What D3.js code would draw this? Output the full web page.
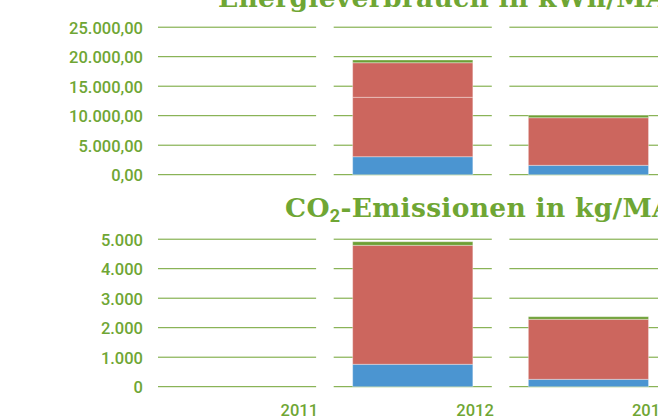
<!DOCTYPE html>
<html>
<head>
<meta charset="utf-8">
<script src="https://cdn.jsdelivr.net/npm/d3@7/dist/d3.min.js"></script>
<style>
  html, body { margin: 0; padding: 0; background: #fff; overflow: hidden; }
  svg { display: block; }
</style>
</head>
<body>
<svg id="chart" width="658" height="418"></svg>
<script>
// Years shown as panels
const years = ["2011", "2012", "2013"];

// Energy consumption per employee (kWh/MA), stacked bottom to top
const energyStrom     = [0, 3050, 1590];
const energyHeizung   = [0, 10070, 8070];
const energyWasser    = [0, 5860, 0];
const energySonstiges = [0, 460, 410];
const energyTicks = [0, 5000, 10000, 15000, 20000, 25000];

// CO2 emissions per employee (kg/MA), stacked bottom to top
const co2Strom     = [0, 760, 250];
const co2Heizung   = [0, 4033, 2035];
const co2Sonstiges = [0, 122, 88];
const co2Ticks = [0, 1000, 2000, 3000, 4000, 5000];

const colors = {
  strom: "#4b95d1",
  heizung: "#cc665e",
  wasser: "#cc665e",
  sonstiges: "#6d9f35",
  grid: "#6fa231",
  text: "#6fa634"
};

const de = d3.formatLocale({ decimal: ",", thousands: ".", grouping: [3], currency: ["", " €"] });

const svg = d3.select("#chart");

// Shared panel scale across both charts
const x = d3.scaleBand().domain(years).range([158, 667.5]).paddingInner(0.1).paddingOuter(0);
const barInset = 0.12;

function drawChart(opts) {
  const g = svg.append("g");
  const y = d3.scaleLinear().domain([0, d3.max(opts.ticks)]).range([opts.y0, opts.y1]);

  // y-axis labels, right aligned left of the first panel
  const axis = d3.axisLeft(y).tickValues(opts.ticks).tickFormat(opts.format).tickSize(0).tickPadding(0);
  const ax = g.append("g").attr("transform", "translate(143,0)").call(axis);
  ax.select(".domain").remove();
  ax.selectAll("text")
    .attr("fill", colors.text)
    .attr("font-family", "Roboto, sans-serif")
    .attr("font-weight", 500)
    .attr("font-size", "16.5px")
    .attr("dy", "0.36em");

  // gridlines per panel
  years.forEach(yr => {
    g.append("g").selectAll("line").data(opts.ticks).join("line")
      .attr("x1", x(yr)).attr("x2", x(yr) + x.bandwidth())
      .attr("y1", d => y(d)).attr("y2", d => y(d))
      .attr("stroke", colors.grid).attr("stroke-width", 1);
  });

  // stacked bars
  const rows = years.map((yr, i) => {
    const r = { year: yr };
    opts.series.forEach(s => { r[s.key] = s.values[i]; });
    return r;
  });
  const stack = d3.stack().keys(opts.series.map(s => s.key));
  const layers = stack(rows);
  g.append("g").selectAll("g").data(layers).join("g")
    .attr("fill", d => opts.series.find(s => s.key === d.key).color)
    .selectAll("rect").data(d => d.filter(p => p[1] - p[0] > 0)).join("rect")
      .attr("x", d => x(d.data.year) + x.bandwidth() * barInset)
      .attr("width", x.bandwidth() * (1 - 2 * barInset))
      .attr("y", d => y(d[1]))
      .attr("height", d => y(d[0]) - y(d[1]))
      .attr("stroke", "rgba(255,255,255,0.35)")
      .attr("stroke-width", 1);

  return { g, y };
}

// Energy chart
drawChart({
  ticks: energyTicks,
  format: de.format(",.2f"),
  y0: 174.7, y1: 27.2,
  series: [
    { key: "strom", values: energyStrom, color: colors.strom },
    { key: "heizung", values: energyHeizung, color: colors.heizung },
    { key: "wasser", values: energyWasser, color: colors.wasser },
    { key: "sonstiges", values: energySonstiges, color: colors.sonstiges }
  ]
});

// CO2 chart
drawChart({
  ticks: co2Ticks,
  format: de.format(",.0f"),
  y0: 386.7, y1: 239.2,
  series: [
    { key: "strom", values: co2Strom, color: colors.strom },
    { key: "heizung", values: co2Heizung, color: colors.heizung },
    { key: "sonstiges", values: co2Sonstiges, color: colors.sonstiges }
  ]
});

// year labels under the CO2 panels
svg.append("g").selectAll("text").data(years).join("text")
  .attr("x", d => x(d) + x.bandwidth() + 2)
  .attr("y", 415.5)
  .attr("text-anchor", "end")
  .attr("fill", colors.text)
  .attr("font-family", "Roboto, sans-serif")
  .attr("font-weight", 500)
  .attr("font-size", "16.5px")
  .text(d => d);

// titles
const titleFont = "'DejaVu Serif', serif";
svg.append("text")
  .attr("x", 218).attr("y", 7)
  .attr("fill", colors.text)
  .attr("font-family", titleFont).attr("font-weight", "bold").attr("font-size", "26.5px")
  .attr("letter-spacing", "0.3px")
  .text("Energieverbrauch in kWh/MA");

const t2 = svg.append("text")
  .attr("x", 285).attr("y", 216.5)
  .attr("fill", colors.text)
  .attr("font-family", titleFont).attr("font-weight", "bold").attr("font-size", "26.5px")
  .attr("letter-spacing", "0.3px");
t2.append("tspan").text("CO");
t2.append("tspan").attr("font-family", "Roboto, sans-serif").attr("font-size", "18px").attr("dy", "5").text("2");
t2.append("tspan").attr("dy", "-5").text("-Emissionen in kg/MA");
</script>
</body>
</html>
